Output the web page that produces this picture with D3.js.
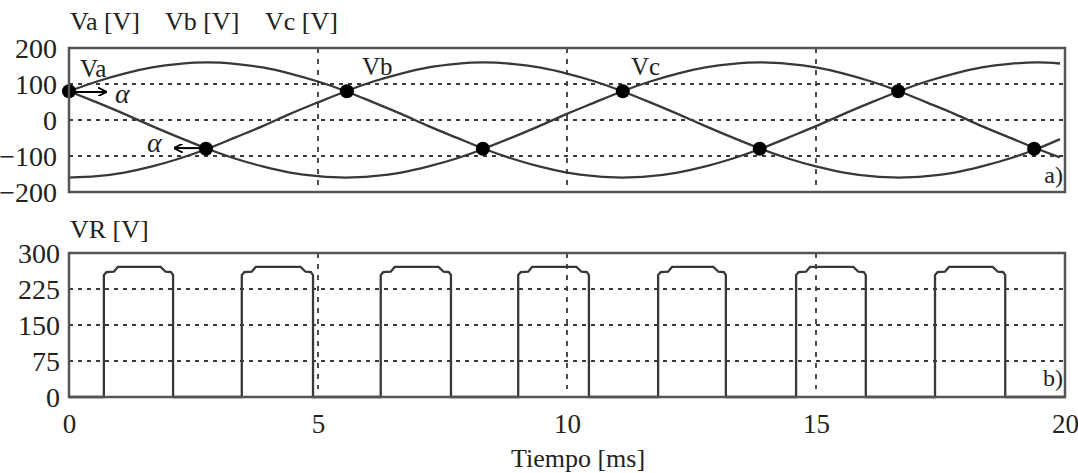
<!DOCTYPE html>
<html>
<head>
<meta charset="utf-8">
<script src="https://cdn.jsdelivr.net/npm/d3@7"></script>
<style>
  body { margin: 0; background: #fff; }
</style>
</head>
<body>
<script>
// time samples [ms]
var tiempo = [0, 0.56, 1.11, 1.67, 2.22, 2.78, 3.33, 3.89, 4.44, 5.00, 5.56, 6.11, 6.67, 7.22, 7.78, 8.33, 8.89, 9.44,
  10.00, 10.56, 11.11, 11.67, 12.22, 12.78, 13.33, 13.89, 14.44, 15.00, 15.56, 16.11, 16.67, 17.22, 17.78, 18.33, 18.89, 19.44, 19.9];

// phase voltages [V]
var va = [80, 107, 129, 146, 156, 160, 156, 146, 129, 107, 80, 49, 17, -17, -49, -80, -107, -129, -146, -156, -160,
  -156, -146, -129, -107, -80, -49, -17, 17, 49, 80, 107, 129, 146, 156, 160, 157];
var vb = [-160, -156, -146, -129, -107, -80, -49, -17, 17, 49, 80, 107, 129, 146, 156, 160, 156, 146, 129, 107, 80,
  49, 17, -17, -49, -80, -107, -129, -146, -156, -160, -156, -146, -129, -107, -80, -53];
var vc = [80, 49, 17, -17, -49, -80, -107, -129, -146, -156, -160, -156, -146, -129, -107, -80, -49, -17, 17, 49, 80,
  107, 129, 146, 156, 160, 156, 146, 129, 107, 80, 49, 17, -17, -49, -80, -104];

// crossing points (marked)
var cruceT = [0, 2.75, 5.58, 8.31, 11.12, 13.87, 16.65, 19.38];
var cruceV = [80, -80, 80, -80, 80, -80, 80, -80];

// load voltage pulses
var vrOn  = [0.70, 3.47, 6.26, 9.02, 11.83, 14.60, 17.39];
var vrOff = [2.09, 4.90, 7.67, 10.44, 13.19, 16.00, 18.80];
var vrLow = 260, vrHigh = 271;

// ticks
var xTicks = [0, 5, 10, 15, 20];
var yTopTicks = [200, 100, 0, -100, -200];
var yBotTicks = [300, 225, 150, 75, 0];

var width = 1078, height = 473;
var serif = '"Liberation Serif", "Times New Roman", serif';

var svg = d3.select('body').append('svg')
    .attr('width', width)
    .attr('height', height)
    .style('font-family', serif);

var x = d3.scaleLinear().domain([0, 20]).range([69, 1065]);
var yTop = d3.scaleLinear().domain([-200, 200]).range([192, 48]);
var yBot = d3.scaleLinear().domain([0, 300]).range([397, 253]);

var gridColor = '#3a3a3a';
var lineColor = '#383838';

function label(g, px, py, size, txt) {
  return g.append('text')
      .attr('x', px).attr('y', py)
      .style('font-family', serif)
      .style('font-size', size + 'px')
      .attr('fill', '#222')
      .text(txt);
}

// ---- panel a) ----
var ga = svg.append('g');

ga.selectAll('.hg').data([100, 0, -100]).enter().append('line')
    .attr('x1', x(0)).attr('x2', x(20))
    .attr('y1', function(d) { return yTop(d); })
    .attr('y2', function(d) { return yTop(d); })
    .attr('stroke', gridColor).attr('stroke-width', 2)
    .attr('stroke-dasharray', '4,5');
ga.selectAll('.vg').data([5, 10, 15]).enter().append('line')
    .attr('x1', function(d) { return x(d); })
    .attr('x2', function(d) { return x(d); })
    .attr('y1', yTop(200)).attr('y2', yTop(-200))
    .attr('stroke', gridColor).attr('stroke-width', 1.8)
    .attr('stroke-dasharray', '5,6');

var line = d3.line()
    .x(function(d) { return x(d[0]); })
    .y(function(d) { return yTop(d[1]); })
    .curve(d3.curveNatural);

[va, vb, vc].forEach(function(s) {
  ga.append('path')
      .datum(d3.zip(tiempo, s))
      .attr('d', line)
      .attr('fill', 'none')
      .attr('stroke', lineColor)
      .attr('stroke-width', 2.3);
});

ga.selectAll('.dot').data(d3.zip(cruceT, cruceV)).enter().append('circle')
    .attr('cx', function(d) { return x(d[0]); })
    .attr('cy', function(d) { return yTop(d[1]); })
    .attr('r', 7)
    .attr('fill', '#000');

ga.append('rect')
    .attr('x', x(0)).attr('y', yTop(200))
    .attr('width', x(20) - x(0)).attr('height', yTop(-200) - yTop(200))
    .attr('fill', 'none').attr('stroke', '#555').attr('stroke-width', 2.5);

// alpha arrows
svg.append('defs').append('marker')
    .attr('id', 'arr').attr('viewBox', '0 0 10 10')
    .attr('refX', 9).attr('refY', 5)
    .attr('markerWidth', 9).attr('markerHeight', 9)
    .attr('markerUnits', 'userSpaceOnUse')
    .attr('orient', 'auto')
  .append('path').attr('d', 'M0,0L10,5L0,10').attr('fill', 'none')
    .attr('stroke', '#000').attr('stroke-width', 2);

var flechas = [[0.1, 0.74, 78], [2.65, 2.12, -78]];
ga.selectAll('.arrow').data(flechas).enter().append('line')
    .attr('x1', function(d) { return x(d[0]); })
    .attr('x2', function(d) { return x(d[1]); })
    .attr('y1', function(d) { return yTop(d[2]); })
    .attr('y2', function(d) { return yTop(d[2]); })
    .attr('stroke', '#000').attr('stroke-width', 2)
    .attr('marker-end', 'url(#arr)');

label(ga, 115, 103, 28, 'α').style('font-style', 'italic');
label(ga, 147, 152, 28, 'α').style('font-style', 'italic');

label(ga, 80, 77, 25, 'Va');
label(ga, 362, 75, 25, 'Vb');
label(ga, 631, 75, 25, 'Vc');
label(ga, 1063, 183, 24, 'a)').attr('text-anchor', 'end');

label(ga, 70, 30, 26, 'Va [V]');
label(ga, 165, 30, 26, 'Vb [V]');
label(ga, 265, 30, 26, 'Vc [V]');

var axTop = ga.append('g')
    .attr('transform', 'translate(57,0)')
    .call(d3.axisLeft(yTop).tickValues(yTopTicks).tickSize(0).tickPadding(0));
axTop.select('.domain').remove();
axTop.selectAll('text')
    .style('font-family', serif).style('font-size', '28px')
    .attr('fill', '#222').attr('dy', '0.34em');

// ---- panel b) ----
var gb = svg.append('g');

gb.selectAll('.hg').data([225, 150, 75]).enter().append('line')
    .attr('x1', x(0)).attr('x2', x(20))
    .attr('y1', function(d) { return yBot(d); })
    .attr('y2', function(d) { return yBot(d); })
    .attr('stroke', gridColor).attr('stroke-width', 2)
    .attr('stroke-dasharray', '4,5');
gb.selectAll('.vg').data([5, 10, 15]).enter().append('line')
    .attr('x1', function(d) { return x(d); })
    .attr('x2', function(d) { return x(d); })
    .attr('y1', yBot(300)).attr('y2', yBot(0) - 8)
    .attr('stroke', gridColor).attr('stroke-width', 1.8)
    .attr('stroke-dasharray', '5,6');

var vrPts = [[0, 0]];
vrOn.forEach(function(on, i) {
  var off = vrOff[i];
  vrPts.push([on, 0], [on, vrLow - 6], [on + 0.05, vrLow], [on + 0.2, vrLow + 1], [on + 0.28, vrHigh],
    [off - 0.25, vrHigh], [off - 0.15, vrLow + 1], [off - 0.04, vrLow], [off, vrLow - 6], [off, 0]);
});
vrPts.push([20, 0]);

gb.append('path')
    .datum(vrPts)
    .attr('d', d3.line()
      .x(function(d) { return x(d[0]); })
      .y(function(d) { return yBot(d[1]); }))
    .attr('fill', 'none')
    .attr('stroke', lineColor)
    .attr('stroke-width', 2.3);

gb.append('rect')
    .attr('x', x(0)).attr('y', yBot(300))
    .attr('width', x(20) - x(0)).attr('height', yBot(0) - yBot(300))
    .attr('fill', 'none').attr('stroke', '#555').attr('stroke-width', 2.5);

label(gb, 70, 238, 26, 'VR [V]');
label(gb, 1063, 386, 24, 'b)').attr('text-anchor', 'end');

var axBot = gb.append('g')
    .attr('transform', 'translate(60,0)')
    .call(d3.axisLeft(yBot).tickValues(yBotTicks).tickSize(0).tickPadding(0));
axBot.select('.domain').remove();
axBot.selectAll('text')
    .style('font-family', serif).style('font-size', '28px')
    .attr('fill', '#222').attr('dy', '0.34em');

var axX = gb.append('g')
    .attr('transform', 'translate(0,' + (yBot(0) + 17) + ')')
    .call(d3.axisBottom(x).tickValues(xTicks).tickSize(0).tickPadding(0));
axX.select('.domain').remove();
axX.selectAll('text')
    .style('font-family', serif).style('font-size', '27px')
    .attr('fill', '#222');

label(svg, x(10) + 11, 467, 26, 'Tiempo [ms]').attr('text-anchor', 'middle');
</script>
</body>
</html>
